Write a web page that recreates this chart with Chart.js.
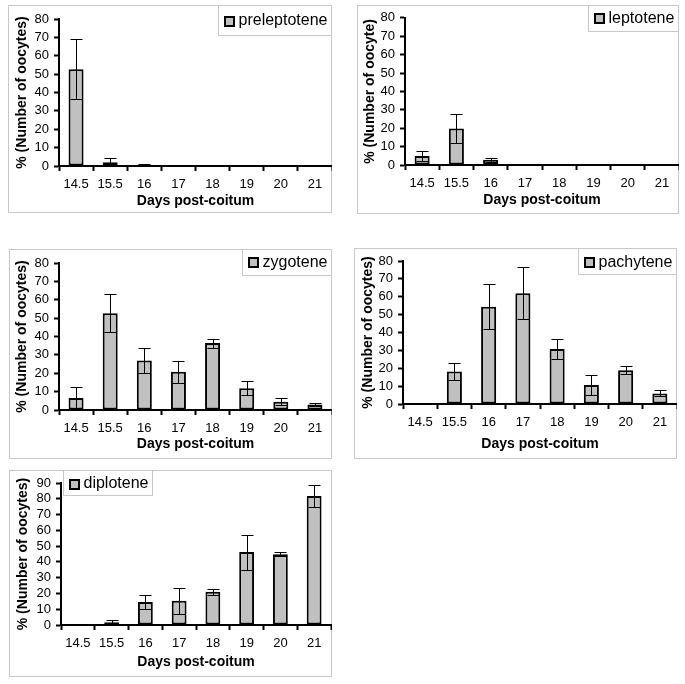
<!DOCTYPE html>
<html><head><meta charset="utf-8">
<script src="https://cdn.jsdelivr.net/npm/chart.js@4/dist/chart.umd.min.js"></script>
<style>
html,body{margin:0;padding:0;background:#fff}
body{width:685px;height:684px;position:relative;overflow:hidden}
.box{position:absolute;border:1px solid #c8c8c8;box-sizing:border-box}
canvas{position:absolute}
</style></head><body>
<script>
// ---- data ----
const days = ['14.5','15.5','16','17','18','19','20','21'];
const yTicks10 = [0,10,20,30,40,50,60,70,80,90];

const preleptotene    = [52.7, 2.0, 0.7, 0, 0, 0, 0, 0];
const preleptoteneErr = [16.2, 2.5, 0.4, 0, 0, 0, 0, 0];

const leptotene    = [4.9, 19.8, 2.8, 0, 0, 0, 0, 0];
const leptoteneErr = [2.5, 7.9, 1.2, 0, 0, 0, 0, 0];

const zygotene    = [6.5, 52.7, 27.0, 20.8, 36.4, 11.9, 4.5, 3.0];
const zygoteneErr = [6.2, 10.5, 6.7, 5.9, 2.5, 4.0, 1.8, 0.6];

const pachytene    = [0, 18.2, 54.4, 62.0, 30.8, 10.6, 18.9, 5.9];
const pachyteneErr = [0, 4.8, 12.5, 14.4, 5.6, 5.5, 2.1, 1.7];

const diplotene    = [0, 1.7, 14.6, 15.3, 21.0, 46.2, 44.8, 81.8];
const diploteneErr = [0, 1.3, 4.5, 8.4, 1.8, 11.1, 1.2, 6.9];

// ---- styling / layout ----
const FONT = '"Liberation Sans", Arial, Helvetica, sans-serif';
Chart.defaults.font.family = FONT;
Chart.defaults.color = '#000';

const BAR_FILL = '#c0c0c0';
const BOX_COLOR = '#c8c8c8';

const panels = [
  {label:'preleptotene', values:preleptotene, errors:preleptoteneErr, yMax:80, yTitle:'% (Number of oocytes)',
   box:[8,5,331,212], area:{left:51, top:14, bottom:161, rightPad:0}, yTitleOff:14, xTitleOff:12,
   legend:{anchor:'right', h:31, cy:16}},
  {label:'leptotene', values:leptotene, errors:leptoteneErr, yMax:80, yTitle:'% (Number of oocyte)',
   box:[357,5,678,213], area:{left:48, top:12, bottom:160, rightPad:0}, yTitleOff:13, xTitleOff:14,
   legend:{anchor:'right', h:27, cy:13.5}},
  {label:'zygotene', values:zygotene, errors:zygoteneErr, yMax:80, yTitle:'% (Number of oocytes)',
   box:[9,249,331,458], area:{left:50, top:14, bottom:161, rightPad:0}, yTitleOff:13, xTitleOff:15,
   legend:{anchor:'right', h:27, cy:13.5}},
  {label:'pachytene', values:pachytene, errors:pachyteneErr, yMax:80, yTitle:'% (Number of oocytes)',
   box:[354,248,676,458], area:{left:49, top:13, bottom:156, rightPad:0}, yTitleOff:14, xTitleOff:15,
   legend:{anchor:'right', h:27, cy:14.5}},
  {label:'diplotene', values:diplotene, errors:diploteneErr, yMax:90, yTitle:'% (Number of oocytes)',
   box:[9,470,331,676], area:{left:52, top:13, bottom:155, rightPad:1}, yTitleOff:14, xTitleOff:15,
   legend:{anchor:'left', x:54, h:26, cy:14}}
];

const errorBars = {
  id:'errorBars',
  afterDatasetsDraw(chart){
    const ctx = chart.ctx, y = chart.scales.y;
    chart.data.datasets.forEach((ds, di) => {
      const meta = chart.getDatasetMeta(di);
      meta.data.forEach((bar, i) => {
        const v = ds.data[i], e = ds.errors[i];
        if (!e) return;
        const top = Math.round(y.getPixelForValue(v + e)) + 0.5;
        const bot = Math.round(y.getPixelForValue(Math.max(0, v - e))) + 0.5;
        const x = Math.round(bar.x) + 0.5;
        const cap = 6;
        ctx.save();
        ctx.strokeStyle = '#000';
        ctx.lineWidth = 1;
        ctx.beginPath();
        ctx.moveTo(x, top); ctx.lineTo(x, bot);
        ctx.moveTo(x - cap, top); ctx.lineTo(x + cap, top);
        ctx.moveTo(x - cap, bot); ctx.lineTo(x + cap, bot);
        ctx.stroke();
        ctx.restore();
      });
    });
  }
};

const boxLegend = {
  id:'boxLegend',
  afterDraw(chart, args, o){
    const ctx = chart.ctx;
    const ds = chart.data.datasets[0];
    const padL = 6, sq = 11, gap = 3.5, padR = 5;
    ctx.save();
    ctx.font = '16px ' + FONT;
    const tw = ctx.measureText(ds.label).width;
    const w = Math.round(padL + sq + gap + tw + padR);
    const x0 = o.anchor === 'right' ? chart.width - w : o.x;
    ctx.fillStyle = '#fff';
    ctx.fillRect(x0, 0, w, o.h);
    ctx.strokeStyle = BOX_COLOR;
    ctx.lineWidth = 1;
    ctx.strokeRect(x0 + 0.5, 0.5, w - 1, o.h - 1);
    const sx = x0 + padL, sy = Math.round(o.cy - sq / 2);
    ctx.fillStyle = '#000';
    ctx.fillRect(sx, sy, sq, sq);
    ctx.fillStyle = BAR_FILL;
    ctx.fillRect(sx + 2, sy + 2, sq - 4, sq - 4);
    ctx.fillStyle = '#000';
    ctx.textAlign = 'left';
    ctx.textBaseline = 'middle';
    ctx.fillText(ds.label, sx + sq + gap, o.cy);
    ctx.restore();
  }
};

panels.forEach(p => {
  const [L, T, R, B] = p.box;
  const W = R - L + 1, H = B - T + 1;
  const frame = document.createElement('div');
  frame.className = 'box';
  Object.assign(frame.style, {left:L+'px', top:T+'px', width:W+'px', height:H+'px'});
  document.body.appendChild(frame);
  const cv = document.createElement('canvas');
  cv.width = W; cv.height = H;
  Object.assign(cv.style, {left:L+'px', top:T+'px', width:W+'px', height:H+'px'});
  document.body.appendChild(cv);

  const a = p.area;
  new Chart(cv, {
    type:'bar',
    data:{
      labels: days,
      datasets:[{
        label: p.label,
        data: p.values,
        errors: p.errors,
        backgroundColor: BAR_FILL,
        borderColor:'#000',
        borderWidth:2,
        borderSkipped:false,
        barPercentage:0.44,
        categoryPercentage:1.0
      }]
    },
    options:{
      responsive:false,
      animation:false,
      devicePixelRatio:1,
      layout:{padding:{top:a.top, right:a.rightPad, left:0, bottom:0}},
      plugins:{
        legend:{display:false},
        tooltip:{enabled:false},
        boxLegend:p.legend
      },
      scales:{
        x:{
          afterFit(s){ s.height = H - a.bottom; },
          grid:{display:true, offset:true, drawOnChartArea:false, drawTicks:true, tickLength:5, tickColor:'#000', tickWidth:2},
          border:{display:true, color:'#000', width:2},
          ticks:{autoSkip:false, maxRotation:0, padding:6, font:{size:13}, color:'#000'},
          title:{display:true, text:'Days post-coitum', font:{size:14, weight:'bold'}, color:'#000',
                 padding:{top:0, bottom:p.xTitleOff - 8.4}}
        },
        y:{
          min:0, max:p.yMax,
          afterFit(s){ s.width = a.left; },
          afterBuildTicks(s){ s.ticks = yTicks10.filter(v => v <= p.yMax).map(v => ({value:v})); },
          grid:{display:true, drawOnChartArea:false, drawTicks:true, tickLength:5, tickColor:'#000', tickWidth:2},
          border:{display:true, color:'#000', width:2},
          ticks:{autoSkip:false, padding:5, font:{size:13}, color:'#000'},
          title:{display:true, text:p.yTitle, font:{size:14, weight:'bold'}, color:'#000',
                 padding:{top:p.yTitleOff - 8.4, bottom:0}}
        }
      }
    },
    plugins:[errorBars, boxLegend]
  });
});
</script>
</body></html>
